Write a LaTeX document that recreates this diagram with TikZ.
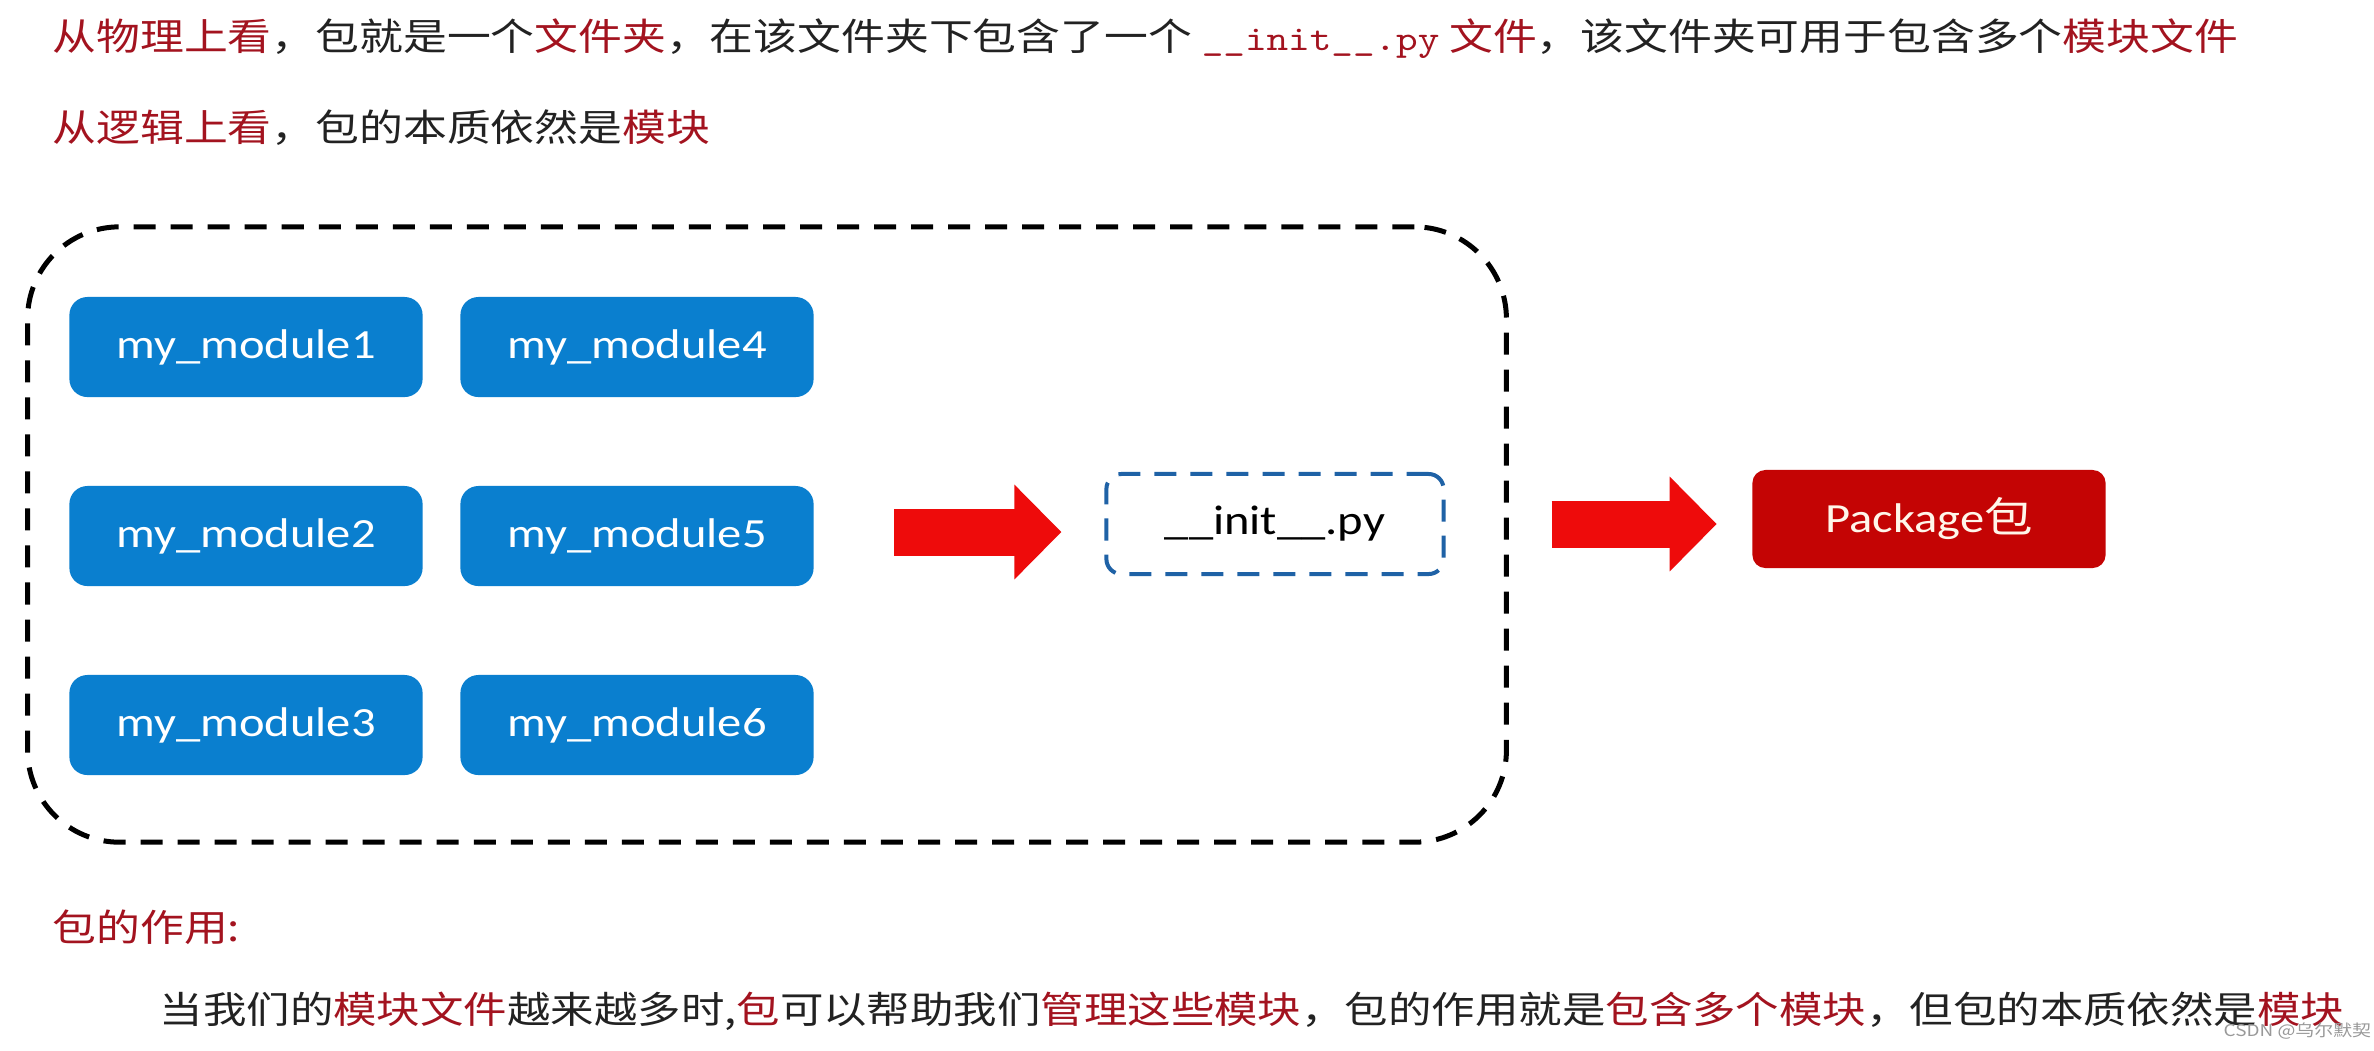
\documentclass[tikz,border=0pt]{standalone}
\usepackage{fontspec}
\setmainfont{Noto Sans CJK SC}[FakeStretch=1.17]
\newfontfamily\modfont{Carlito}[FakeStretch=1.17]
\newfontfamily\codefont{Latin Modern Mono}[FakeStretch=1.17]
\usetikzlibrary{arrows.meta,calc}
\definecolor{modblue}{HTML}{0A7FCF}
\definecolor{pkgred}{HTML}{C40404}
\definecolor{arrowred}{HTML}{EE0B0B}
\definecolor{initblue}{HTML}{1F62A6}
\definecolor{txtred}{HTML}{A3131F}
\definecolor{txtgray}{HTML}{222222}
\definecolor{cream}{HTML}{FFF6EA}
\newcommand{\hl}[1]{\textcolor{txtred}{#1}}

\begin{document}
\begin{tikzpicture}[x=0.01cm,y=-0.01cm,
	module/.style={fill=modblue, rounded corners=0.18cm, minimum width=3.53cm, minimum height=1cm, text=white, font=\modfont\fontsize{11.8}{14}\selectfont},
	initbox/.style={draw=initblue, line width=0.04cm, dash pattern=on 0.22cm off 0.14cm, rounded corners=0.15cm, minimum width=3.37cm, minimum height=1cm, font=\modfont\fontsize{11.8}{14}\selectfont},
	pkgbox/.style={fill=pkgred, rounded corners=0.13cm, minimum width=3.53cm, minimum height=0.98cm, text=cream, font=\modfont\fontsize{11.8}{14}\selectfont},
	frame/.style={draw, line width=0.05cm, dash pattern=on 0.22cm off 0.15cm, rounded corners=0.92cm, minimum width=14.78cm, minimum height=6.15cm},
	bigarrow/.style={draw=arrowred, line width=0.47cm, -{Triangle[length=0.47cm,width=0.92cm]}},
	textline/.style={anchor=west, inner sep=0pt, text=txtgray, font=\fontsize{10.65}{13}\selectfont}]
	\fill[white] (0,0) rectangle (2374,1050);
	\useasboundingbox (0,0) rectangle (2374,1050);

	\node[textline] (phys) at (52,39) {\hl{从物理上看}，包就是一个\hl{文件夹}，在该文件夹下包含了一个 \hl{\codefont\fontsize{10}{12}\selectfont\_\_init\_\_.py} \hl{文件}，该文件夹可用于包含多个\hl{模块文件}};
	\node[textline] (logic) at (52,128) {\hl{从逻辑上看}，包的本质依然是\hl{模块}};

	\node[frame] (pack) at (767,534.5) {};
	\node[module] (m1) at (246,347) {my\_module1};
	\node[module] (m2) at (246,536) {my\_module2};
	\node[module] (m3) at (246,725) {my\_module3};
	\node[module] (m4) at (637,347) {my\_module4};
	\node[module] (m5) at (637,536) {my\_module5};
	\node[module] (m6) at (637,725) {my\_module6};
	\node[initbox] (init) at (1275,524) {\_\_init\_\_.py};
	\node[pkgbox] (pkg) at (1929,519) {Package{\rmfamily 包}};

	\draw[bigarrow] ($(m5.east)+(80,-4)$) -- ($(init.west)+(-43,8)$);
	\draw[bigarrow] ($(init.east)+(106,0)$) -- ($(pkg.west)+(-35,5)$);

	\node[textline] (role) at (52,927) {\hl{包的作用:}};
	\node[textline, font=\fontsize{10.56}{13}\selectfont] (body) at (159,1011) {当我们的\hl{模块文件}越来越多时,\hl{包}可以帮助我们\hl{管理这些模块}，包的作用就是\hl{包含多个模块}，但包的本质依然是\hl{模块}};
	\node[anchor=west, inner sep=0pt, text=black!40, font=\fontsize{4.6}{6}\selectfont] (mark) at (2223,1031) {CSDN @乌尔默契};
\end{tikzpicture}
\end{document}
